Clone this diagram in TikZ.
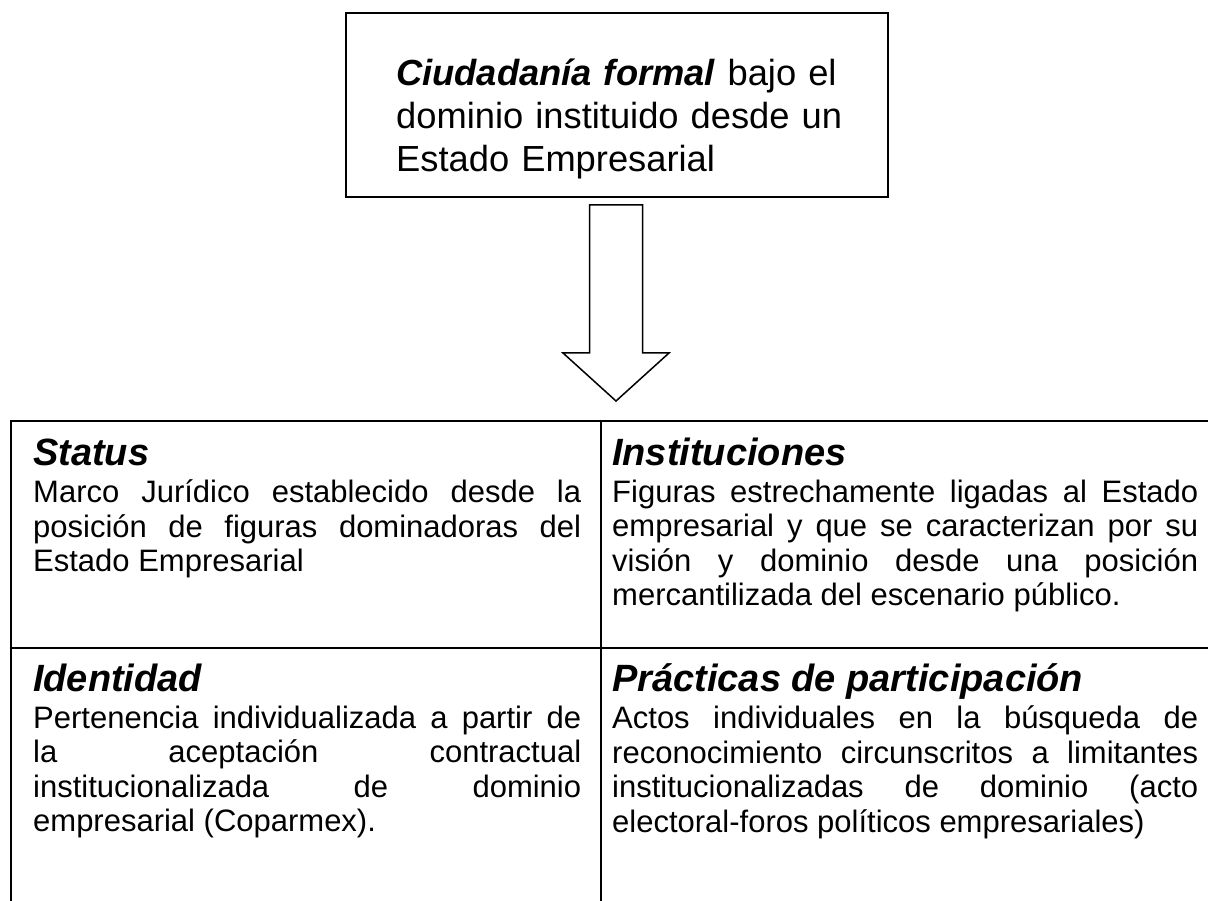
\documentclass[tikz,border=0pt]{standalone}
\usepackage{fontspec}
\setmainfont{Liberation Sans}
\begin{document}
\begin{tikzpicture}[x=1pt,y=-1pt,
  titulo/.style={anchor=base west,inner sep=0pt,font=\fontsize{38}{42}\selectfont\bfseries\itshape},
  texto/.style={anchor=north west,inner sep=0pt,align=justify,font=\fontsize{31}{34.5}\selectfont,
    execute at begin node={\tolerance=10000\hyphenpenalty=10000}},
  linea/.style={line width=2.2pt}]
  \useasboundingbox (0,0) rectangle (1208,901);
  % recuadro superior
  \node[draw,line width=1.5pt,minimum width=542,minimum height=184,inner sep=0pt] (ciud) at (617,105) {};
  \node[anchor=north west,inner sep=0pt,text width=460,align=left,font=\fontsize{36.3}{43}\selectfont] (ciudtxt) at (396,58.5)
    {\textbf{\textit{Ciudadanía formal}} bajo el\\ dominio instituido desde un\\ Estado Empresarial};
  % flecha
  \coordinate (flecha) at (616,205);
  \draw[line width=1.5pt,line join=miter] (flecha) -- ++(26.5,0) -- ++(0,148) -- ++(26.5,0) -- (616,401)
    -- (563,353) -- ++(26.5,0) -- ++(0,-148) -- cycle;
  % tabla
  \draw[linea] (11,901) -- (11,421) -- (1208,421);
  \draw[linea] (11,648) -- (1208,648);
  \draw[linea] (601,421) -- (601,901);
  \node[titulo] (status) at (33,465) {Status};
  \node[texto,text width=548] (statustxt) at (33,479.5)
    {Marco Jurídico establecido desde la\linebreak posición de figuras dominadoras del\linebreak Estado Empresarial};
  \node[titulo] (inst) at (612,465) {Instituciones};
  \node[texto,text width=586] (insttxt) at (612,479.5)
    {Figuras estrechamente ligadas al Estado\linebreak empresarial y que se caracterizan por su\linebreak visión y dominio desde una posición\linebreak mercantilizada del escenario público.};
  \node[titulo] (ident) at (33,691) {Identidad};
  \node[texto,text width=548] (identtxt) at (33,705.5)
    {Pertenencia individualizada a partir de\linebreak la aceptación contractual\linebreak institucionalizada de dominio\linebreak empresarial (Coparmex).};
  \node[titulo] (pract) at (612,691) {Prácticas de participación};
  \node[texto,text width=586] (practtxt) at (612,705.5)
    {Actos individuales en la búsqueda de\linebreak reconocimiento circunscritos a limitantes\linebreak institucionalizadas de dominio (acto\linebreak electoral-foros políticos empresariales)};
\end{tikzpicture}
\end{document}
